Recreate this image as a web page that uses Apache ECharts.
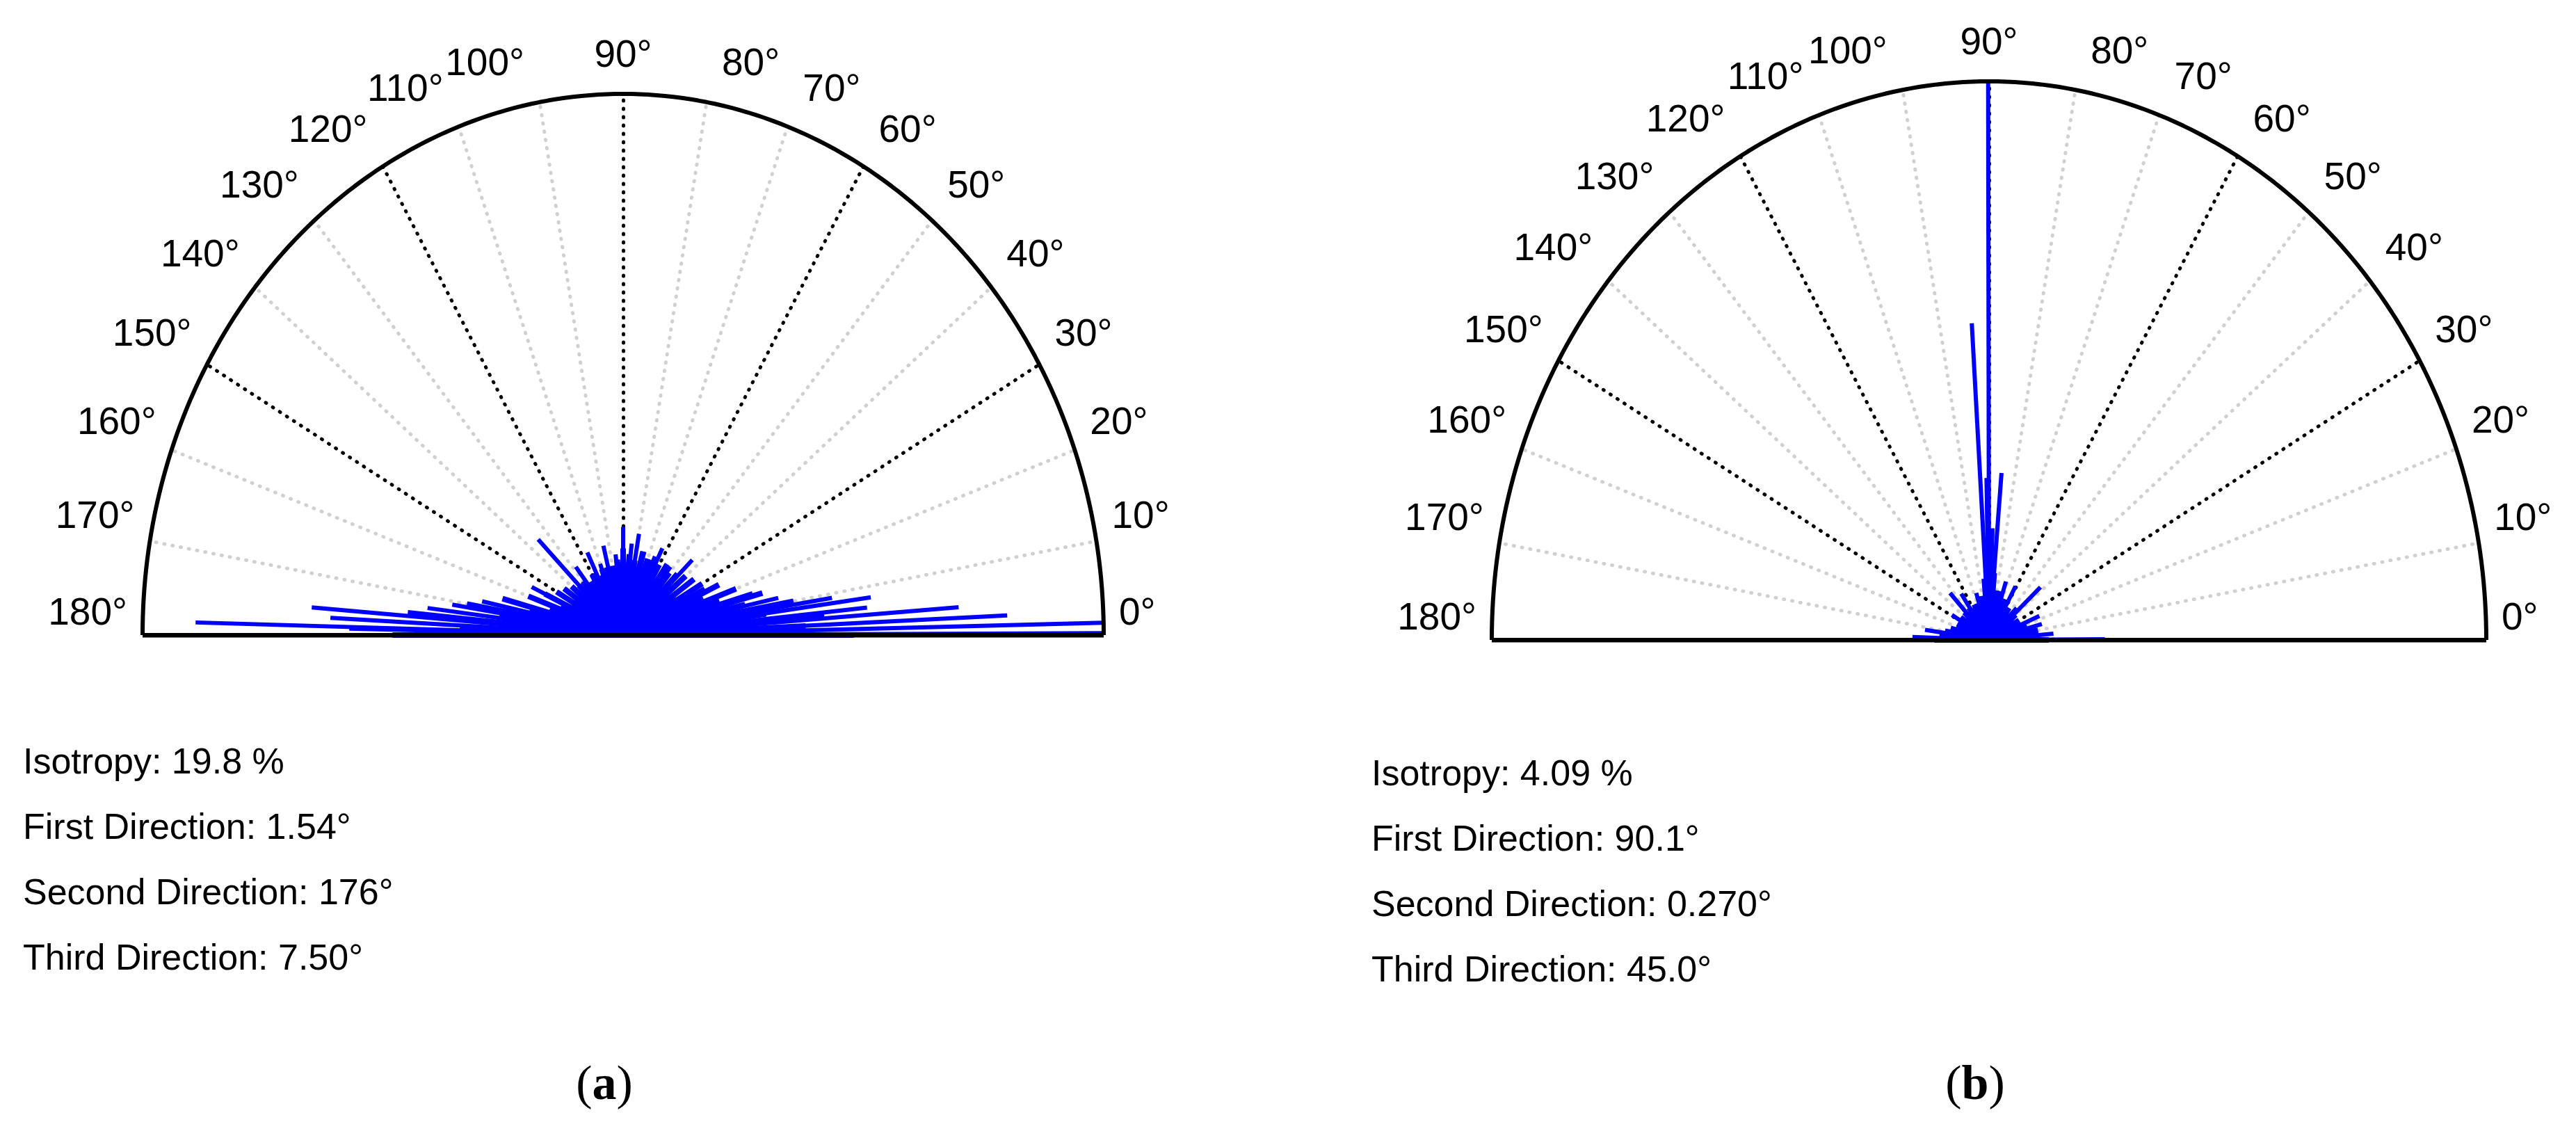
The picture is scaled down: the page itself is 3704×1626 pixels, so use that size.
<!DOCTYPE html>
<html><head><meta charset="utf-8">
<script src="https://cdn.jsdelivr.net/npm/echarts@6/dist/echarts.min.js"></script>
<style>html,body{margin:0;padding:0;background:#fff}#c{width:3704px;height:1626px}</style>
</head><body><div id="c"></div>
<script>
// ---------- data ----------
const tickAngles = [0,10,20,30,40,50,60,70,80,90,100,110,120,130,140,150,160,170,180];
const tickLabels = ['0°','10°','20°','30°','40°','50°','60°','70°','80°','90°','100°','110°','120°','130°','140°','150°','160°','170°','180°'];
const majorAngles = [30,60,90,120,150];

// chart (a): prominent spikes (angle deg, normalized length)
const aSpikeAngles = [0.2,1.3,2.6,4.2,5.7,7.7,9,12,16,20,27,35,44,52,63,68,74,80,84,90,96,104,110,116,128,135,145,155,160,165,168,171,173,174.6,175.5,177,178.5,178.8];
const aSpikeRadii  = [1.0,1.0,0.80,0.70,0.51,0.52,0.44,0.33,0.28,0.24,0.19,0.17,0.20,0.16,0.18,0.15,0.16,0.19,0.17,0.20,0.15,0.17,0.14,0.17,0.16,0.25,0.15,0.21,0.19,0.24,0.30,0.36,0.41,0.45,0.65,0.61,0.89,0.57];
// chart (a): dense background cloud
const aCloudAngles = [0,2.5,5,7.5,10,12.5,15,17.5,20,22.5,25,27.5,30,32.5,35,37.5,40,42.5,45,47.5,50,52.5,55,57.5,60,62.5,65,67.5,70,72.5,75,77.5,80,82.5,85,87.5,90,92.5,95,97.5,100,102.5,105,107.5,110,112.5,115,117.5,120,122.5,125,127.5,130,132.5,135,137.5,140,142.5,145,147.5,150,152.5,155,157.5,160,162.5,165,167.5,170,172.5,175,177.5,180];
const aCloudRadii  = [0.48,0.38,0.42,0.30,0.36,0.26,0.30,0.21,0.25,0.18,0.22,0.15,0.19,0.13,0.18,0.12,0.17,0.11,0.16,0.12,0.15,0.11,0.16,0.12,0.15,0.11,0.16,0.12,0.15,0.12,0.16,0.13,0.14,0.12,0.15,0.13,0.16,0.12,0.14,0.11,0.13,0.10,0.13,0.10,0.13,0.10,0.12,0.10,0.13,0.10,0.12,0.10,0.13,0.10,0.13,0.11,0.14,0.11,0.15,0.12,0.16,0.12,0.18,0.14,0.21,0.16,0.26,0.20,0.33,0.26,0.40,0.34,0.48];

// chart (b): prominent spikes
const bSpikeAngles = [0.27,5,15,23,42.4,61,72,85.2,88,89,90.1,91,92,93.5,107,124,133,149,172,178];
const bSpikeRadii  = [0.233,0.13,0.11,0.11,0.14,0.11,0.11,0.30,0.20,0.17,1.0,0.29,0.18,0.568,0.088,0.10,0.115,0.087,0.13,0.154];
// chart (b): background cloud
const bCloudAngles = [0,5,10,15,20,25,30,35,40,45,50,55,60,65,70,75,80,85,90,95,100,105,110,115,120,125,130,135,140,145,150,155,160,165,170,175,180];
const bCloudRadii  = [0.12,0.10,0.10,0.08,0.08,0.07,0.07,0.06,0.07,0.08,0.06,0.07,0.06,0.08,0.07,0.09,0.09,0.12,0.14,0.11,0.08,0.08,0.07,0.07,0.06,0.07,0.06,0.07,0.06,0.07,0.06,0.07,0.07,0.08,0.09,0.10,0.11];

const statsA = ['Isotropy: 19.8 %','First Direction: 1.54°','Second Direction: 176°','Third Direction: 7.50°'];
const statsB = ['Isotropy: 4.09 %','First Direction: 90.1°','Second Direction: 0.270°','Third Direction: 45.0°'];

// ---------- build ----------
const D = Math.PI/180;
const grids = [
  {left:205, top:135, width:1382, height:778},
  {left:2145, top:117, width:1430, height:803}
];
function ray(a,r){return {coords:[[0,0],[r*Math.cos(a*D), r*Math.sin(a*D)]]};}
const series = [];
const panels = [[aSpikeAngles,aSpikeRadii,aCloudAngles,aCloudRadii],[bSpikeAngles,bSpikeRadii,bCloudAngles,bCloudRadii]];
panels.forEach((p,i)=>{
  const base = {coordinateSystem:'cartesian2d', xAxisIndex:i, yAxisIndex:i, silent:true, animation:false};
  const minor = tickAngles.filter(a=>a>0&&a<180&&majorAngles.indexOf(a)<0);
  series.push(Object.assign({type:'lines', z:1, data:minor.map(a=>ray(a,1)),
    lineStyle:{color:'#d0d0d0', width:5, type:[1,11], cap:'round', opacity:1}}, base));
  series.push(Object.assign({type:'lines', z:2, data:majorAngles.map(a=>ray(a,1)),
    lineStyle:{color:'#000', width:5, type:[1,11], cap:'round', opacity:1}}, base));
  series.push(Object.assign({type:'lines', z:3, data:p[2].map((a,k)=>ray(a,p[3][k])),
    lineStyle:{color:'#0000ff', width:8, opacity:1}}, base));
  series.push(Object.assign({type:'lines', z:4, data:p[0].map((a,k)=>ray(a,p[1][k])),
    lineStyle:{color:'#0000ff', width:6, opacity:1}}, base));
  const arc=[]; for(let a=0;a<=180;a+=1) arc.push([Math.cos(a*D), Math.sin(a*D)]);
  series.push(Object.assign({type:'line', z:5, data:arc, showSymbol:false, clip:false,
    lineStyle:{color:'#000', width:6}}, base));
  series.push(Object.assign({type:'lines', z:5, data:[{coords:[[-1,0],[1,0]]}],
    lineStyle:{color:'#000', width:7, opacity:1}}, base));
  series.push(Object.assign({type:'scatter', z:6, symbolSize:0, clip:false,
    data: tickAngles.map((a,k)=>{
      const c=Math.cos(a*D), s=Math.sin(a*D);
      const align = c>0.15?'left':(c<-0.15?'right':'center');
      const ox = (c>0.15?22:(c<-0.15?-22:0)) , oy = -(30+24*s);
      return {value:[c,s], label:{show:true, formatter:tickLabels[k], align:align, verticalAlign:'middle', offset:[ox,oy], color:'#000', opacity:1}};
    }),
    itemStyle:{opacity:1},
    label:{show:true, fontSize:55, color:'#000', fontFamily:'Liberation Sans'}}, base));
});

const graphic = [];
[[statsA,33,1103],[statsB,1972,1120]].forEach(([arr,x,y])=>{
  arr.forEach((t,k)=>graphic.push({type:'text', left:x, top:y+k*94-31, style:{text:t, fontSize:52, fontFamily:'Liberation Sans', fill:'#000'}}));
});
[['a',869],['b',2840]].forEach(([t,x])=>{
  graphic.push({type:'text', x:x, y:1562, style:{text:'{p|(}{b|'+t+'}{p|)}', align:'center', verticalAlign:'middle',
    rich:{p:{fontSize:70, fontFamily:'Liberation Serif', fill:'#000'}, b:{fontSize:70, fontWeight:'bold', fontFamily:'Liberation Serif', fill:'#000'}}}});
});

const chart = echarts.init(document.getElementById('c'));
chart.setOption({
  animation:false,
  grid: grids.map(g=>({left:g.left, top:g.top, width:g.width, height:g.height})),
  xAxis: grids.map((g,i)=>({type:'value', gridIndex:i, min:-1, max:1, show:false})),
  yAxis: grids.map((g,i)=>({type:'value', gridIndex:i, min:0, max:1, show:false})),
  series: series,
  graphic: graphic
});
</script></body></html>
